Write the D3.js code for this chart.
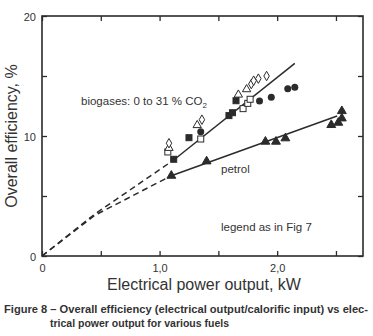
<!DOCTYPE html>
<html>
<head>
<meta charset="utf-8">
<script src="https://cdn.jsdelivr.net/npm/d3@7"></script>
<style>
html,body{margin:0;padding:0;background:#fff;}
svg{display:block;}
text{font-family:"Liberation Sans",Arial,Helvetica,sans-serif;fill:#333;}
</style>
</head>
<body>
<svg id="chart" width="373" height="336"></svg>
<script>
// ---- data ----
const xTicks = [0, 0.5, 1.0, 1.5, 2.0, 2.5];
const xTickLabels = ["0", "", "1,0", "", "2,0", ""];
const yTicks = [0, 5, 10, 15, 20];
const yTickLabels = ["0", "", "10", "", "20"];

const biogasFilledSquare = [[1.12,8.06],[1.25,9.86],[1.59,11.7],[1.62,11.94],[1.65,12.94]];
const biogasOpenSquare = [[1.07,8.67],[1.35,9.75],[1.71,12.28],[1.75,12.72],[1.77,13.06]];
const biogasFilledCircle = [[1.35,10.36],[1.85,12.92],[1.95,13.22],[2.09,13.94],[2.15,14.06]];
const biogasOpenTriangle = [[1.08,9.0],[1.32,10.9],[1.67,13.44],[1.74,13.89]];
const biogasOpenDiamond = [[1.08,9.4],[1.36,11.36],[1.78,14.33],[1.80,14.61],[1.84,14.78],[1.91,15.0]];
const petrolFilledTriangle = [[1.10,6.69],[1.40,7.89],[1.90,9.53],[1.99,9.53],[2.07,9.81],[2.46,10.92],[2.52,11.11],[2.55,11.47],[2.55,12.08]];

const biogasDashed = [[0,0],[0.45,3.5],[1.12,8.0]];
const biogasSolid = [[1.12,8.0],[2.15,16.05]];
const petrolDashed = [[0,0],[0.45,3.4],[1.10,6.69]];
const petrolSolid = [[1.10,6.69],[2.51,11.67]];

const labels = {
  yTitle: "Overall efficiency, %",
  xTitle: "Electrical power output, kW",
  biogas: "biogases: 0 to 31 % CO",
  petrol: "petrol",
  legend: "legend as in Fig 7",
  cap1: "Figure 8 \u2013 Overall efficiency (electrical output/calorific input) vs elec-",
  cap2: "trical power output for various fuels"
};

// ---- drawing ----
const svg = d3.select("#chart");
const L = 42, R = 363, T = 16, B = 256;
const x = d3.scaleLinear().domain([0, 2.73]).range([L, R]);
const y = d3.scaleLinear().domain([0, 20]).range([B, T]);
const ink = "#2b2b2b";

const line = d3.line().x(d => x(d[0])).y(d => y(d[1]));
function drawLine(data, dashed) {
  svg.append("path").attr("d", line(data)).attr("fill", "none")
    .attr("stroke", ink).attr("stroke-width", 1.5)
    .attr("stroke-dasharray", dashed ? "6,4" : null);
}
drawLine(biogasDashed, true);
drawLine(biogasSolid, false);
drawLine(petrolDashed, true);
drawLine(petrolSolid, false);

// axes
const fmtX = (d, i) => xTickLabels[i];
const fmtY = (d, i) => yTickLabels[i];
const gB = svg.append("g").attr("transform", `translate(0,${B})`)
  .call(d3.axisBottom(x).tickValues(xTicks).tickFormat(fmtX).tickSize(-5).tickPadding(8));
const gT = svg.append("g").attr("transform", `translate(0,${T})`)
  .call(d3.axisTop(x).tickValues(xTicks).tickFormat("").tickSize(-5));
const gL = svg.append("g").attr("transform", `translate(${L},0)`)
  .call(d3.axisLeft(y).tickValues(yTicks).tickFormat(fmtY).tickSize(-5).tickPadding(6));
const gR = svg.append("g").attr("transform", `translate(${R},0)`)
  .call(d3.axisRight(y).tickValues(yTicks).tickFormat("").tickSize(-5));
[gB, gT, gL, gR].forEach(g => {
  g.select(".domain").remove();
  g.selectAll(".tick line").attr("stroke", ink).attr("stroke-width", 1.3);
  g.selectAll(".tick text").filter(function () { return this.textContent === ""; }).remove();
  g.selectAll(".tick text").style("font-size", "11px").style("font-family", '"Liberation Sans",Arial,sans-serif').attr("fill", "#333");
});
gL.selectAll(".tick text").attr("dy", "0.4em");

svg.append("rect").attr("x", L).attr("y", T).attr("width", R - L).attr("height", B - T)
  .attr("fill", "none").attr("stroke", ink).attr("stroke-width", 1.6);

// markers
const sq = 6;
function squares(data, filled) {
  svg.append("g").selectAll("rect").data(data).join("rect")
    .attr("x", d => x(d[0]) - sq / 2).attr("y", d => y(d[1]) - sq / 2)
    .attr("width", sq).attr("height", sq)
    .attr("fill", filled ? ink : "#fff").attr("stroke", ink).attr("stroke-width", 1);
}
function circles(data) {
  svg.append("g").selectAll("circle").data(data).join("circle")
    .attr("cx", d => x(d[0])).attr("cy", d => y(d[1])).attr("r", 3.5)
    .attr("fill", ink);
}
function symbols(data, type, size, filled) {
  const s = d3.symbol().type(type).size(size);
  svg.append("g").selectAll("path").data(data).join("path")
    .attr("d", s).attr("transform", d => `translate(${x(d[0])},${y(d[1])})`)
    .attr("fill", filled ? ink : "#fff").attr("stroke", ink).attr("stroke-width", 1);
}
squares(biogasOpenSquare, false);
squares(biogasFilledSquare, true);
circles(biogasFilledCircle);
symbols(biogasOpenTriangle, d3.symbolTriangle, 30, false);
symbols(biogasOpenDiamond, d3.symbolDiamond, 26, false);
symbols(petrolFilledTriangle, d3.symbolTriangle, 34, true);

// text
const t1 = svg.append("text").attr("x", 81).attr("y", 105).style("font-size", "11.5px").text(labels.biogas);
t1.append("tspan").attr("dy", 3).style("font-size", "8px").text("2");
svg.append("text").attr("x", 221).attr("y", 173).style("font-size", "11.5px").text(labels.petrol);
svg.append("text").attr("x", 221).attr("y", 231).style("font-size", "11.5px").text(labels.legend);

svg.append("text").attr("transform", "translate(17,136) rotate(-90)")
  .attr("text-anchor", "middle").style("font-size", "16px").text(labels.yTitle);
svg.append("text").attr("x", 204).attr("y", 289.5)
  .attr("text-anchor", "middle").style("font-size", "16px").text(labels.xTitle);

svg.append("text").attr("x", 4).attr("y", 313).style("font-size", "10px").style("font-weight", "bold")
  .attr("textLength", 364).attr("lengthAdjust", "spacingAndGlyphs").text(labels.cap1);
svg.append("text").attr("x", 50).attr("y", 327).style("font-size", "10px").style("font-weight", "bold")
  .attr("textLength", 179).attr("lengthAdjust", "spacingAndGlyphs").text(labels.cap2);
</script>
</body>
</html>
